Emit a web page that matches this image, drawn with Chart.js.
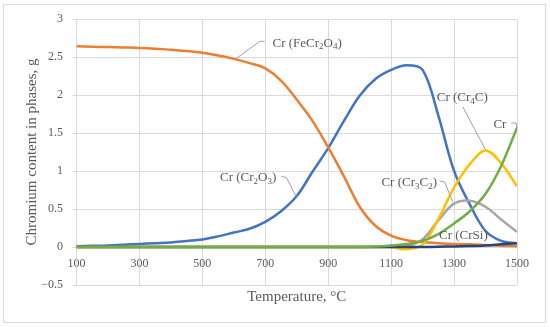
<!DOCTYPE html>
<html>
<head>
<meta charset="utf-8">
<script src="https://cdn.jsdelivr.net/npm/chart.js"></script>
<style>
  body { margin: 0; background: #fff; }
</style>
</head>
<body>
<canvas id="phases" width="550" height="327"></canvas>
<script>
// temperature, °C
const temps = [100, 150, 200, 250, 300, 350, 400, 450, 500, 550, 600, 650, 700, 750, 800,
  850, 900, 950, 1000, 1050, 1100, 1150, 1200, 1250, 1300, 1350, 1400, 1450, 1500];

// chromium content, g
const crCr2O3 = [0.01, 0.015, 0.02, 0.03, 0.04, 0.05, 0.06, 0.08, 0.10, 0.14, 0.19, 0.24, 0.33, 0.47, 0.67,
  0.99, 1.30, 1.66, 1.99, 2.21, 2.33, 2.39, 2.33, 1.73, 1.0, 0.56, 0.21, 0.08, 0.05];
const crFeCr2O4 = [2.64, 2.635, 2.63, 2.625, 2.62, 2.61, 2.595, 2.58, 2.555, 2.52, 2.475, 2.42, 2.35, 2.19, 1.94,
  1.66, 1.31, 0.93, 0.53, 0.28, 0.15, 0.09, 0.065, 0.05, 0.04, 0.035, 0.025, 0.015, 0.01];
const crCr3C2 = [0, 0, 0, 0, 0, 0, 0, 0, 0, 0, 0, 0, 0, 0, 0,
  0, 0, 0, 0, 0, 0, 0.01, 0.10, 0.35, 0.57, 0.61, 0.53, 0.36, 0.20];
const crCr4C = [0, 0, 0, 0, 0, 0, 0, 0, 0, 0, 0, 0, 0, 0, 0,
  0, 0, 0, 0, 0, 0, -0.03, 0.03, 0.37, 0.78, 1.09, 1.27, 1.10, 0.80];
const crCrSi = [0, 0, 0, 0, 0, 0, 0, 0, 0, 0, 0, 0, 0, 0, 0,
  0, 0, 0, 0, 0, 0, 0, 0, 0.003, 0.008, 0.012, 0.02, 0.035, 0.05];
const crFree = [0, 0, 0, 0, 0, 0, 0, 0, 0, 0, 0, 0, 0, 0, 0,
  0, 0, 0, 0, 0.005, 0.02, 0.04, 0.08, 0.17, 0.31, 0.47, 0.70, 1.07, 1.57];

const xTicks = [100, 300, 500, 700, 900, 1100, 1300, 1500];

// callout labels: text parts (1 = subscript), anchor [T, g], leader line [T, g]...
const notes = [
  { parts: [["Cr (FeCr"], ["2", 1], ["O"], ["4", 1], [")"]], at: [723, 2.676],
    leader: [[698, 2.707], [683, 2.707], [603, 2.466]] },
  { parts: [["Cr (Cr"], ["2", 1], ["O"], ["3", 1], [")"]], at: [556, 0.908],
    leader: [[751, 0.93], [767, 0.913], [799, 0.658]] },
  { parts: [["Cr (Cr"], ["4", 1], ["C)"]], at: [1245, 1.96],
    leader: [[1328, 1.842], [1400, 1.28]] },
  { parts: [["Cr"]], at: [1425, 1.61],
    leader: [[1482, 1.632], [1497, 1.632], [1500, 1.56]] },
  { parts: [["Cr (Cr"], ["3", 1], ["C"], ["2", 1], [")"]], at: [1069, 0.842],
    leader: [[1254, 0.868], [1270, 0.855], [1296, 0.592]] },
  { parts: [["Cr (CrSi)"]], at: [1252, 0.154], leader: [] }
];

const FONT = "'Liberation Serif', 'Times New Roman', serif";
const TEXT = "#595959";
const GRID = "#d9d9d9";

function pts(values) {
  return temps.map((t, i) => ({ x: t, y: values[i] }));
}

function line(values, color, order) {
  return {
    data: pts(values),
    borderColor: color,
    borderWidth: 2.5,
    pointRadius: 0,
    tension: 0.35,
    fill: false,
    order: order
  };
}

const notesPlugin = {
  id: "notes",
  beforeDraw(chart) {
    const ctx = chart.ctx;
    ctx.save();
    ctx.fillStyle = "#fff";
    ctx.fillRect(0, 0, chart.width, chart.height);
    ctx.strokeStyle = GRID;
    ctx.lineWidth = 1;
    ctx.strokeRect(3.5, 4.5, 542, 318);
    ctx.restore();
  },
  afterDatasetsDraw(chart) {
    const ctx = chart.ctx;
    const xs = chart.scales.x, ys = chart.scales.y;
    ctx.save();
    ctx.strokeStyle = "#a0a0a0";
    ctx.lineWidth = 1;
    notes.forEach(n => {
      if (n.leader.length) {
        ctx.beginPath();
        n.leader.forEach((p, i) => {
          const px = xs.getPixelForValue(p[0]), py = ys.getPixelForValue(p[1]);
          if (i === 0) ctx.moveTo(px, py); else ctx.lineTo(px, py);
        });
        ctx.stroke();
      }
      let cx = xs.getPixelForValue(n.at[0]);
      const cy = ys.getPixelForValue(n.at[1]);
      ctx.fillStyle = TEXT;
      ctx.textBaseline = "middle";
      ctx.textAlign = "left";
      n.parts.forEach(([t, sub]) => {
        ctx.font = (sub ? 9 : 13) + "px " + FONT;
        ctx.fillText(t, cx, sub ? cy + 3.5 : cy);
        cx += ctx.measureText(t).width;
      });
    });
    ctx.restore();
  }
};

new Chart(document.getElementById("phases"), {
  type: "line",
  data: {
    datasets: [
      line(crCr2O3, "#4472C4", 5),
      line(crFeCr2O4, "#ED7D31", 4),
      line(crCr3C2, "#A5A5A5", 3),
      line(crCr4C, "#FFC000", 2),
      line(crCrSi, "#264478", 1),
      line(crFree, "#70AD47", 0)
    ]
  },
  options: {
    responsive: false,
    animation: false,
    devicePixelRatio: 1,
    layout: { padding: { top: 19, right: 33, bottom: 42, left: 4 } },
    plugins: { legend: { display: false }, tooltip: { enabled: false } },
    scales: {
      x: {
        type: "linear",
        position: { y: 0 },
        min: 100,
        max: 1500,
        afterBuildTicks: s => { s.ticks = xTicks.map(v => ({ value: v })); },
        grid: { color: GRID, drawTicks: false },
        border: { color: GRID },
        ticks: {
          padding: 10,
          color: TEXT,
          font: { family: FONT, size: 12 },
          maxRotation: 0,
          callback: v => String(v)
        },
        title: {
          display: true,
          text: "Temperature, °C",
          color: TEXT,
          font: { family: FONT, size: 15 },
          padding: { top: 7, bottom: 0 }
        }
      },
      y: {
        min: -0.5,
        max: 3,
        afterFit: s => { s.width = 72.5; },
        grid: { color: GRID, tickLength: 4 },
        border: { color: GRID },
        ticks: {
          stepSize: 0.5,
          padding: 9.5,
          color: TEXT,
          font: { family: FONT, size: 12 },
          callback: v => v < 0 ? "\u2212" + Math.abs(v) : String(v)
        },
        title: {
          display: true,
          text: "Chromium content in phases, g",
          color: TEXT,
          font: { family: FONT, size: 15 },
          padding: { top: 19, bottom: 0 }
        }
      }
    }
  },
  plugins: [notesPlugin]
});
</script>
</body>
</html>
